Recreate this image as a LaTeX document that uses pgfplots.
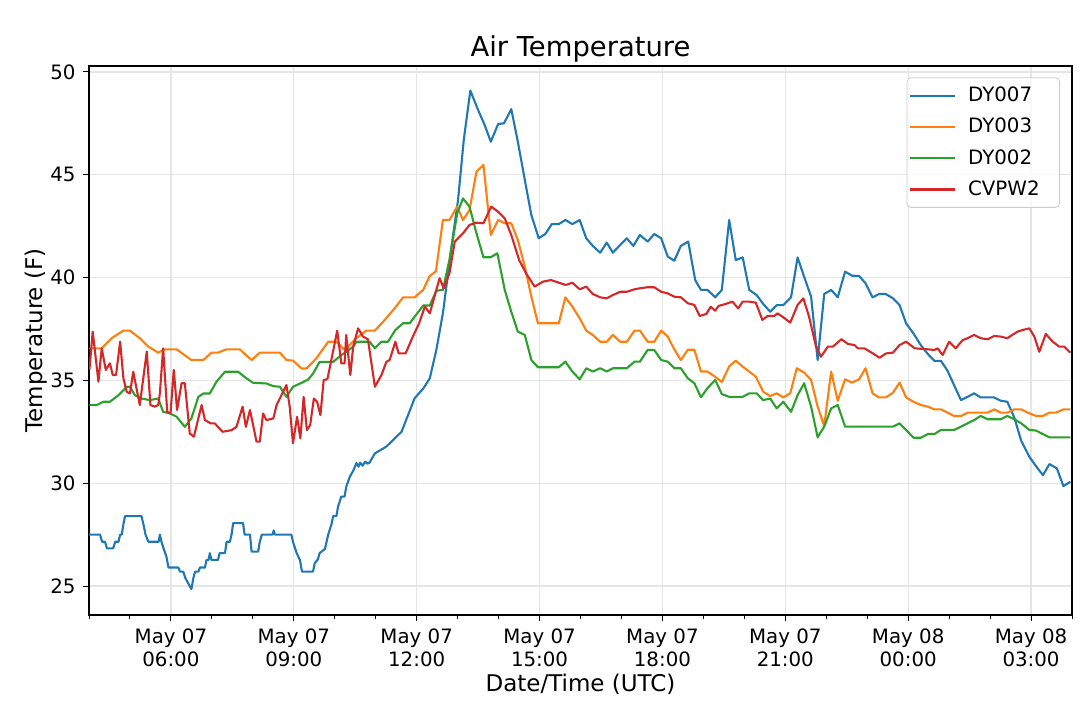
\documentclass[border=0pt]{standalone}
\usepackage{fontspec}
\setmainfont{DejaVu Sans}
\usepackage{pgfplots}
\pgfplotsset{compat=1.18}
\definecolor{c1}{HTML}{1F77B4}
\definecolor{c2}{HTML}{FF7F0E}
\definecolor{c3}{HTML}{2CA02C}
\definecolor{c4}{HTML}{D62728}
\begin{document}
\begin{tikzpicture}
\useasboundingbox (-44.5pt,-50.5pt) rectangle (495.5pt,307.5pt);
\begin{axis}[
  scale only axis,
  width=491.5pt, height=274.5pt,
  xmin=4, xmax=28, ymin=23.59, ymax=50.29,
  xtick={6,9,12,15,18,21,24,27},
  xticklabels={{May 07\\06:00},{May 07\\09:00},{May 07\\12:00},{May 07\\15:00},{May 07\\18:00},{May 07\\21:00},{May 08\\00:00},{May 08\\03:00}},
  minor xtick={4,5,7,8,10,11,13,14,16,17,19,20,22,23,25,26,28},
  ytick={25,30,35,40,45,50},
  /pgf/number format/assume math mode=true,
  tick align=outside,
  major tick length=3.2pt,
  minor tick length=1.8pt,
  tick style={black, line width=0.5pt},
  xtick pos=bottom, ytick pos=left,
  axis line style={black, line width=0.6pt},
  grid=major,
  major grid style={black!10, line width=0.6pt},
  xticklabel style={font=\fontsize{9.9}{11.6}\selectfont, align=center},
  yticklabel style={font=\fontsize{9.9}{12}\selectfont},
  title={Air Temperature},
  title style={at={(axis description cs:0.5,1)}, anchor=base, yshift=-1.35pt, font=\fontsize{13.7}{16}\selectfont},
  xlabel={Date/Time (UTC)},
  xlabel style={at={(axis description cs:0.5,0)}, anchor=base, yshift=-38.3pt, font=\fontsize{11.5}{14}\selectfont},
  ylabel={Temperature (F)},
  ylabel style={at={(axis description cs:-0.0472,0.5)}, anchor=base, rotate=0, font=\fontsize{11.5}{14}\selectfont},
  every axis plot/.append style={line width=1.05pt, line join=round},
  legend cell align=left,
  legend image code/.code={\draw[#1] (0pt,0pt) -- (22.5pt,0pt);},
  legend style={at={(1,1)}, anchor=north east, xshift=-6pt, yshift=-5.7pt,
    draw=black!20, rounded corners=2pt, fill=white, fill opacity=0.8, text opacity=1,
    font=\fontsize{9.9}{11.9}\selectfont, inner xsep=1pt, inner ysep=2.5pt, row sep=2.8pt,
    /tikz/every odd column/.append style={column sep=4pt}},
]
\addplot[c1] coordinates {(4.00,27.5)(4.27,27.5)(4.32,27.15)(4.39,27.15)(4.44,26.83)(4.59,26.83)(4.64,27.15)(4.72,27.15)(4.76,27.5)(4.80,27.5)(4.84,28.0)(4.88,28.4)(5.28,28.4)(5.33,28.0)(5.38,27.5)(5.45,27.15)(5.70,27.15)(5.73,27.5)(5.77,27.15)(5.82,26.83)(5.89,26.43)(5.94,25.9)(6.18,25.9)(6.22,25.7)(6.30,25.7)(6.35,25.4)(6.43,25.1)(6.50,24.85)(6.55,25.4)(6.59,25.7)(6.67,25.7)(6.71,25.9)(6.83,25.9)(6.87,26.27)(6.92,26.27)(6.95,26.6)(6.99,26.27)(7.15,26.27)(7.19,26.6)(7.32,26.6)(7.36,27.15)(7.44,27.15)(7.48,27.5)(7.52,28.06)(7.76,28.06)(7.80,27.5)(7.93,27.5)(7.97,26.67)(8.13,26.67)(8.17,27.15)(8.22,27.5)(8.48,27.5)(8.51,27.7)(8.54,27.5)(8.94,27.5)(8.98,27.15)(9.07,26.6)(9.15,26.27)(9.20,25.7)(9.47,25.7)(9.51,26.1)(9.59,26.3)(9.63,26.6)(9.76,26.8)(9.80,27.15)(9.84,27.5)(9.92,28.0)(9.96,28.4)(10.04,28.4)(10.08,28.86)(10.16,29.35)(10.24,29.35)(10.28,29.83)(10.37,30.32)(10.45,30.6)(10.53,30.98)(10.58,30.8)(10.62,31.0)(10.68,30.85)(10.74,31.05)(10.80,30.95)(10.85,31.0)(10.98,31.45)(11.26,31.78)(11.63,32.5)(11.95,34.13)(12.16,34.6)(12.32,35.1)(12.48,36.48)(12.64,38.26)(12.85,41.5)(13.01,43.77)(13.15,46.7)(13.31,49.09)(13.50,48.15)(13.66,47.42)(13.81,46.61)(13.99,47.47)(14.13,47.5)(14.31,48.19)(14.47,46.61)(14.64,44.75)(14.80,43.04)(14.98,41.91)(15.14,42.12)(15.30,42.6)(15.47,42.6)(15.63,42.8)(15.80,42.6)(15.98,42.8)(16.14,41.91)(16.30,41.54)(16.48,41.21)(16.64,41.7)(16.79,41.21)(16.97,41.59)(17.13,41.91)(17.29,41.54)(17.45,42.07)(17.64,41.75)(17.80,42.12)(17.97,41.91)(18.13,41.02)(18.29,40.82)(18.45,41.54)(18.63,41.75)(18.80,39.88)(18.94,39.4)(19.10,39.4)(19.29,39.04)(19.45,39.4)(19.63,42.8)(19.79,40.85)(19.96,40.98)(20.12,39.4)(20.30,39.15)(20.46,38.72)(20.63,38.34)(20.79,38.66)(20.95,38.66)(21.14,39.04)(21.30,40.98)(21.46,40.04)(21.63,39.07)(21.79,35.99)(21.95,39.2)(22.12,39.4)(22.28,39.04)(22.46,40.29)(22.63,40.09)(22.80,40.08)(22.96,39.72)(23.13,39.04)(23.29,39.2)(23.45,39.2)(23.63,38.99)(23.79,38.66)(23.95,37.77)(24.13,37.28)(24.31,36.71)(24.48,36.28)(24.64,35.95)(24.80,35.95)(24.96,35.47)(25.12,34.77)(25.29,34.04)(25.45,34.2)(25.61,34.37)(25.77,34.17)(25.94,34.17)(26.10,34.17)(26.26,34.01)(26.42,33.96)(26.59,33.2)(26.76,32.06)(26.96,31.28)(27.12,30.83)(27.29,30.39)(27.45,30.93)(27.63,30.72)(27.79,29.86)(27.96,30.07)};
\addlegendentry{DY007\hspace*{7pt}}
\addplot[c2] coordinates {(4.01,36.56)(4.31,36.56)(4.55,37.05)(4.84,37.42)(5.0,37.42)(5.24,37.05)(5.45,36.64)(5.69,36.35)(5.85,36.51)(6.14,36.51)(6.50,35.99)(6.79,35.99)(6.99,36.35)(7.15,36.35)(7.36,36.51)(7.68,36.51)(7.97,35.99)(8.17,36.35)(8.66,36.35)(8.82,35.99)(8.98,35.96)(9.19,35.58)(9.31,35.58)(9.55,36.07)(9.84,36.88)(10.04,36.88)(10.24,36.48)(10.53,37.05)(10.77,37.42)(10.98,37.42)(11.22,37.94)(11.46,38.5)(11.67,39.04)(11.95,39.04)(12.16,39.4)(12.32,40.08)(12.47,40.3)(12.64,42.8)(12.80,42.8)(12.99,43.45)(13.13,42.8)(13.29,43.28)(13.46,45.15)(13.63,45.48)(13.81,42.07)(13.99,42.8)(14.15,42.64)(14.31,42.64)(14.47,41.83)(14.64,40.53)(14.80,39.07)(14.96,37.78)(15.47,37.78)(15.63,39.04)(15.80,38.59)(15.98,38.02)(16.14,37.42)(16.30,37.21)(16.48,36.88)(16.64,36.88)(16.79,37.21)(16.97,36.88)(17.13,36.88)(17.32,37.42)(17.45,37.42)(17.64,36.88)(17.80,36.88)(17.97,37.42)(18.13,37.13)(18.29,36.51)(18.45,35.99)(18.62,36.49)(18.78,36.49)(18.94,35.43)(19.10,35.43)(19.27,35.2)(19.45,34.92)(19.63,35.68)(19.79,35.96)(19.96,35.67)(20.12,35.43)(20.28,35.18)(20.46,34.45)(20.63,34.24)(20.79,34.37)(20.95,34.17)(21.12,34.37)(21.28,35.59)(21.46,35.38)(21.63,35.02)(21.79,33.72)(21.95,32.78)(22.12,35.43)(22.28,34.01)(22.46,35.05)(22.63,34.89)(22.80,35.05)(22.96,35.59)(23.13,34.37)(23.29,34.17)(23.45,34.17)(23.63,34.4)(23.79,34.89)(23.95,34.17)(24.13,33.96)(24.31,33.8)(24.48,33.72)(24.64,33.59)(24.80,33.59)(24.96,33.43)(25.12,33.27)(25.29,33.27)(25.45,33.43)(25.61,33.43)(25.77,33.43)(25.94,33.43)(26.10,33.59)(26.26,33.43)(26.42,33.43)(26.59,33.59)(26.76,33.59)(26.92,33.43)(27.12,33.27)(27.29,33.27)(27.45,33.43)(27.61,33.43)(27.79,33.59)(27.96,33.59)};
\addlegendentry{DY003\hspace*{7pt}}
\addplot[c3] coordinates {(4.01,33.8)(4.19,33.8)(4.35,33.96)(4.51,33.96)(4.72,34.28)(4.92,34.69)(5.0,34.69)(5.12,34.28)(5.28,34.12)(5.49,34.04)(5.69,34.12)(5.81,33.47)(5.98,33.39)(6.14,33.23)(6.34,32.74)(6.50,33.15)(6.67,34.2)(6.79,34.36)(6.95,34.36)(7.11,34.93)(7.32,35.42)(7.64,35.42)(7.85,35.09)(8.01,34.88)(8.33,34.85)(8.50,34.72)(8.66,34.69)(8.82,34.2)(8.98,34.69)(9.19,34.88)(9.35,35.04)(9.47,35.33)(9.63,35.9)(9.96,35.9)(10.16,36.23)(10.28,36.39)(10.45,36.64)(10.53,36.88)(10.85,36.88)(10.98,36.56)(11.14,36.88)(11.30,36.88)(11.48,37.45)(11.67,37.78)(11.83,37.78)(11.99,38.2)(12.16,38.64)(12.32,38.64)(12.48,39.36)(12.64,39.4)(12.80,40.86)(12.99,43.12)(13.13,43.85)(13.29,43.45)(13.46,42.15)(13.63,40.99)(13.81,40.99)(13.97,41.18)(14.15,39.4)(14.31,38.34)(14.47,37.37)(14.64,37.21)(14.80,35.99)(14.96,35.64)(15.47,35.64)(15.63,35.91)(15.80,35.43)(15.98,35.05)(16.14,35.59)(16.30,35.43)(16.48,35.59)(16.64,35.43)(16.79,35.59)(17.13,35.59)(17.32,35.91)(17.45,35.91)(17.64,36.48)(17.80,36.48)(17.97,35.99)(18.13,35.91)(18.29,35.59)(18.45,35.59)(18.62,35.1)(18.78,34.86)(18.94,34.18)(19.10,34.62)(19.29,35.02)(19.45,34.33)(19.63,34.2)(19.96,34.2)(20.12,34.37)(20.30,34.37)(20.46,34.04)(20.63,34.12)(20.79,33.64)(20.95,33.96)(21.14,33.47)(21.30,34.28)(21.46,34.86)(21.63,33.72)(21.79,32.23)(21.95,32.75)(22.12,33.64)(22.28,33.8)(22.46,32.75)(23.63,32.75)(23.79,32.91)(23.95,32.59)(24.13,32.21)(24.31,32.21)(24.48,32.39)(24.64,32.39)(24.80,32.59)(25.12,32.59)(25.29,32.75)(25.45,32.91)(25.61,33.07)(25.77,33.27)(25.94,33.11)(26.26,33.11)(26.42,33.27)(26.59,33.11)(26.76,32.91)(26.96,32.59)(27.12,32.56)(27.29,32.39)(27.45,32.23)(27.96,32.23)};
\addlegendentry{DY002\hspace*{7pt}}
\addplot[c4] coordinates {(4.01,35.51)(4.09,37.37)(4.23,34.94)(4.31,36.56)(4.41,35.51)(4.51,35.83)(4.58,35.26)(4.66,35.26)(4.76,36.88)(4.84,35.1)(4.92,34.45)(5.0,34.36)(5.08,35.42)(5.24,33.8)(5.41,36.4)(5.50,33.8)(5.61,33.72)(5.69,33.8)(5.73,34.36)(5.81,36.56)(5.91,33.47)(5.99,33.39)(6.07,35.51)(6.15,33.56)(6.26,34.86)(6.34,34.86)(6.46,32.42)(6.56,32.26)(6.75,33.8)(6.83,33.07)(6.97,32.91)(7.07,32.91)(7.26,32.5)(7.48,32.58)(7.60,32.74)(7.75,33.72)(7.83,32.74)(7.93,33.56)(8.09,32.02)(8.17,32.02)(8.25,33.39)(8.33,33.07)(8.50,33.15)(8.58,33.8)(8.82,34.77)(8.90,33.72)(8.98,31.94)(9.08,33.23)(9.16,32.18)(9.24,34.2)(9.32,32.58)(9.40,32.83)(9.49,34.12)(9.57,33.96)(9.65,33.31)(9.73,35.02)(9.82,35.06)(9.90,35.83)(10.06,37.42)(10.16,35.83)(10.24,35.83)(10.28,37.21)(10.38,35.26)(10.45,36.64)(10.57,37.53)(10.69,37.13)(10.81,37.0)(10.98,34.69)(11.14,35.26)(11.26,35.9)(11.34,35.99)(11.48,36.88)(11.56,36.31)(11.73,36.31)(11.90,37.1)(12.06,37.78)(12.20,38.59)(12.32,38.26)(12.56,39.97)(12.66,39.48)(12.80,40.21)(12.93,41.75)(13.13,42.15)(13.29,42.56)(13.46,42.67)(13.63,42.64)(13.82,43.45)(13.99,43.2)(14.15,42.88)(14.31,42.07)(14.50,40.86)(14.67,40.21)(14.88,39.56)(15.08,39.8)(15.28,39.88)(15.47,39.75)(15.64,39.64)(15.80,39.75)(15.98,39.43)(16.14,39.56)(16.30,39.2)(16.48,39.04)(16.64,38.99)(16.79,39.15)(16.97,39.31)(17.13,39.31)(17.32,39.43)(17.45,39.48)(17.64,39.53)(17.80,39.53)(17.97,39.31)(18.13,39.23)(18.29,39.07)(18.45,39.04)(18.62,38.75)(18.78,38.67)(18.91,38.13)(19.07,38.23)(19.18,38.58)(19.29,38.39)(19.37,38.62)(19.55,38.72)(19.71,38.83)(19.85,38.5)(19.96,38.83)(20.12,38.83)(20.28,38.78)(20.44,37.94)(20.57,38.13)(20.73,38.13)(20.81,38.26)(20.95,38.07)(21.12,37.81)(21.30,38.67)(21.44,38.99)(21.58,38.1)(21.75,36.64)(21.87,36.15)(22.04,36.64)(22.16,36.64)(22.37,37.0)(22.53,36.77)(22.69,36.72)(22.77,36.56)(22.93,36.56)(23.14,36.31)(23.30,36.1)(23.46,36.31)(23.63,36.35)(23.79,36.72)(23.95,36.88)(24.16,36.56)(24.48,36.51)(24.64,36.48)(24.72,36.56)(24.84,36.23)(25.00,36.88)(25.16,36.56)(25.33,36.96)(25.45,37.05)(25.61,37.21)(25.77,37.05)(25.94,37.0)(26.10,37.16)(26.26,37.13)(26.42,37.05)(26.54,37.21)(26.67,37.37)(26.79,37.45)(26.96,37.53)(27.08,37.13)(27.20,36.39)(27.36,37.26)(27.53,36.88)(27.69,36.64)(27.81,36.64)(27.96,36.35)};
\addlegendentry{CVPW2\hspace*{7pt}}
\end{axis}
\end{tikzpicture}
\end{document}
